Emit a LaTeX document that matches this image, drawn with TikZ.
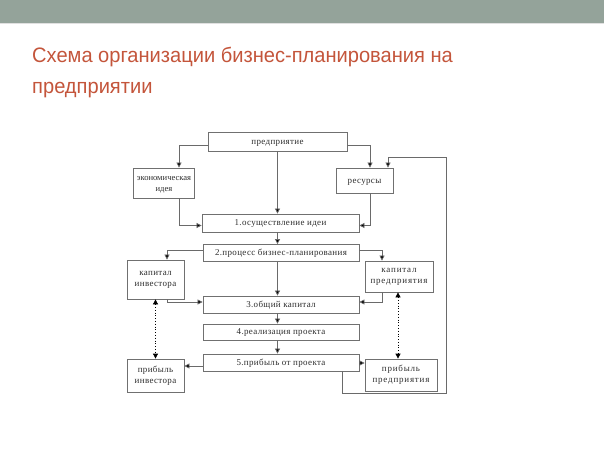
\documentclass[tikz,border=0pt]{standalone}
\usepackage{fontspec}
\setmainfont{Liberation Serif}
\newfontfamily\titlefont[FakeStretch=0.96]{Liberation Sans}
\newfontfamily\boxfont[LetterSpace=4]{Liberation Serif}
\newfontfamily\boxfonttight[LetterSpace=0]{Liberation Serif}
\newfontfamily\boxfontwide[LetterSpace=9]{Liberation Serif}
\usetikzlibrary{arrows.meta}
\definecolor{band}{HTML}{94A39A}
\definecolor{titlecol}{HTML}{C4553B}
\definecolor{linecol}{HTML}{6A6A6A}
\definecolor{boxcol}{HTML}{707070}
\definecolor{txtcol}{HTML}{2E2E2E}
\tikzset{
  box/.style={draw=boxcol, line width=0.8bp, fill=white, inner sep=0pt, align=center,
    font=\boxfont\fontsize{9}{11}\selectfont, text=txtcol},
  onebox/.style={box, text height=7bp, text depth=1.5bp},
  conn/.style={draw=linecol, line width=0.7bp, -{Triangle[length=5bp,width=5bp,fill=black]}},
  dotconn/.style={draw=black, line width=0.8bp, dotted,
    {Triangle[length=5bp,width=5bp,fill=black]}-{Triangle[length=5bp,width=5bp,fill=black]}},
}
\begin{document}
\begin{tikzpicture}[x=1bp,y=-1bp]
\useasboundingbox (0,0) rectangle (604,453);
\fill[white] (0,0) rectangle (604,453);
\fill[band] (0,0) rectangle (604,23);
\fill[black!12] (0,23) rectangle (604,24.5);
\node[anchor=base west, inner sep=0pt, text=titlecol, font=\titlefont\fontsize{21}{25}\selectfont] (t1) at (32,63) {Схема организации бизнес-планирования на};
\node[anchor=base west, inner sep=0pt, text=titlecol, font=\titlefont\fontsize{21}{25}\selectfont] (t2) at (32,94) {предприятии};

\node[onebox, minimum width=139bp, minimum height=19bp] (pr) at (277.5,141.5) {предприятие};
\node[box, minimum width=61bp, minimum height=30bp, font=\boxfonttight\fontsize{8.6}{11}\selectfont] (eco) at (164,183) {\rule{0pt}{8bp}экономическая\\идея};
\node[onebox, minimum width=57bp, minimum height=25bp] (res) at (364.5,180.5) {ресурсы};
\node[onebox, minimum width=157bp, minimum height=18bp] (b1) at (280.5,223) {1.осуществление идеи};
\node[onebox, minimum width=156bp, minimum height=17bp] (b2) at (281,253) {2.процесс бизнес-планирования};
\node[box, minimum width=57bp, minimum height=39bp] (ki) at (155.5,279.5) {капитал\\инвестора};
\node[box, minimum width=68bp, minimum height=31bp, font=\boxfontwide\fontsize{9}{11}\selectfont] (kp) at (399,276.5) {капитал\\предприятия};
\node[onebox, minimum width=156bp, minimum height=17bp] (b3) at (281,304.5) {3.общий капитал};
\node[onebox, minimum width=156bp, minimum height=16bp] (b4) at (281,332) {4.реализация проекта};
\node[onebox, minimum width=156bp, minimum height=17bp] (b5) at (281,362.5) {5.прибыль от проекта};
\node[box, minimum width=57bp, minimum height=33bp] (pi) at (155.5,375.5) {прибыль\\инвестора};
\node[box, minimum width=72bp, minimum height=32bp, font=\boxfontwide\fontsize{9}{11}\selectfont] (pp) at (401,375) {прибыль\\предприятия};

\coordinate (lb) at (446,393);
\coordinate (lt) at (446,157);

\draw[conn] ([yshift=-3.5bp]pr.west) -| ([xshift=15bp]eco.north);
\draw[conn] ([yshift=-3.5bp]pr.east) -| ([xshift=5.5bp]res.north);
\draw[conn] (pr.south) -- (pr.south |- b1.north);
\draw[conn] ([xshift=15bp]eco.south) |- ([yshift=-2.5bp]b1.west);
\draw[conn] ([xshift=5.5bp]res.south) |- ([yshift=-2.5bp]b1.east);
\draw[conn] (pr.south |- b1.south) -- (pr.south |- b2.north);
\draw[conn] ([yshift=3bp]b2.west) -| ([xshift=11.5bp]ki.north);
\draw[conn] ([yshift=3bp]b2.east) -| ([xshift=-17bp]kp.north);
\draw[conn] (pr.south |- b2.south) -- (pr.south |- b3.north);
\draw[conn] ([xshift=11.5bp]ki.south) |- ([yshift=2.5bp]b3.west);
\draw[conn] ([xshift=-17bp]kp.south) |- ([yshift=2.5bp]b3.east);
\draw[conn] (pr.south |- b3.south) -- (pr.south |- b4.north);
\draw[conn] (pr.south |- b4.south) -- (pr.south |- b5.north);
\draw[dotconn] (ki.south) -- (ki.south |- pi.north);
\draw[dotconn] ([xshift=-1bp]kp.south) -- ([xshift=-1bp]kp.south |- pp.north);
\draw[conn] ([yshift=-3.5bp]b5.west) -- ([yshift=-3.5bp]b5.west -| pi.east);
\draw[conn] ([yshift=-0.5bp]b5.east) -- ([yshift=-0.5bp]b5.east -| pp.west);
\draw[conn] ([xshift=61bp]b5.south) |- (lb) -- (lt) -| ([xshift=23.5bp]res.north);
\end{tikzpicture}
\end{document}
